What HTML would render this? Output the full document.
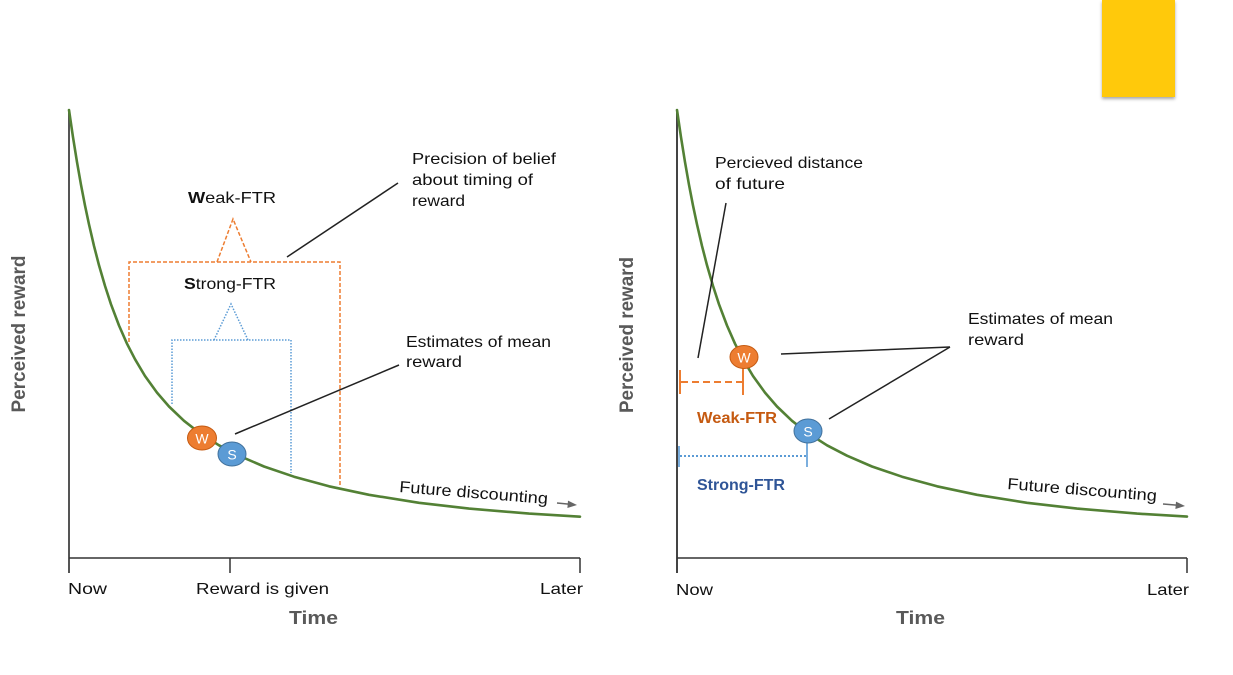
<!DOCTYPE html>
<html>
<head>
<meta charset="utf-8">
<style>
html,body{margin:0;padding:0;background:#fff;}
body{width:1233px;height:675px;overflow:hidden;position:relative;}
.yb{position:absolute;left:1102px;top:0;width:73px;height:97px;background:#FFC90B;box-shadow:0 2px 3px rgba(0,0,0,0.35);}
svg{position:absolute;left:0;top:0;}
text{font-family:"Liberation Sans",sans-serif;}
</style>
</head>
<body>
<div class="yb"></div>
<svg width="1233" height="675" viewBox="0 0 1233 675" xmlns="http://www.w3.org/2000/svg">
<!-- ============ LEFT CHART ============ -->
<!-- axes -->
<line x1="69" y1="109" x2="69" y2="573" stroke="#555" stroke-width="2"/>
<line x1="69" y1="558" x2="580" y2="558" stroke="#333" stroke-width="1.5"/>
<line x1="230" y1="558" x2="230" y2="573" stroke="#333" stroke-width="1.5"/>
<line x1="580" y1="558" x2="580" y2="573" stroke="#333" stroke-width="1.5"/>

<!-- orange dashed bracket -->
<g fill="none" stroke="#ED7D31" stroke-width="1.5" stroke-dasharray="4 2">
<polyline points="129,342 129,262 340,262 340,485"/>
<polyline points="217,262 233,219 251,262"/>
</g>
<!-- blue dotted bracket -->
<g fill="none" stroke="#5B9BD5" stroke-width="1.5" stroke-dasharray="1.5 1.5">
<polyline points="172,404 172,340 291,340 291,473"/>
<polyline points="214,340 231,304 248,340"/>
</g>

<!-- curve -->
<polyline fill="none" stroke="#538135" stroke-width="2.6" stroke-linejoin="round" stroke-linecap="round"
points="69,110 73,137.2 77,162.1 81,184.8 85,205.5 89,224.4 94,245.9 99,265.3 105,285.9 111,304.3 119,325.5 127,343.7 135,359.2 145,376 157,392.6 169,406.5 184,420.8 199,432.5 219,445.3 239,455.7 264,466.5 294,476.7 329,486.3 369,494.8 419,502.8 469,508.6 529,513.6 580,516.7"/>

<!-- callout lines -->
<line x1="287" y1="257" x2="398" y2="183" stroke="#222" stroke-width="1.5"/>
<line x1="235" y1="434" x2="399" y2="365" stroke="#222" stroke-width="1.5"/>

<!-- W / S markers -->
<ellipse cx="202" cy="438" rx="14.5" ry="12" fill="#ED7D31" stroke="#C55A11" stroke-width="1"/>
<text x="202" y="443.5" font-size="14" fill="#fff" text-anchor="middle">W</text>
<ellipse cx="232" cy="454" rx="14" ry="12" fill="#5B9BD5" stroke="#41719C" stroke-width="1"/>
<text x="232" y="459.5" font-size="14" fill="#fff" text-anchor="middle">S</text>

<!-- labels -->
<text x="188" y="203" font-size="16" fill="#111" textLength="88" lengthAdjust="spacingAndGlyphs"><tspan font-weight="bold">W</tspan>eak-FTR</text>
<text x="184" y="289" font-size="16" fill="#111" textLength="92" lengthAdjust="spacingAndGlyphs"><tspan font-weight="bold">S</tspan>trong-FTR</text>

<text x="412" y="164" font-size="16" fill="#111" textLength="144" lengthAdjust="spacingAndGlyphs">Precision of belief</text>
<text x="412" y="185" font-size="16" fill="#111" textLength="121" lengthAdjust="spacingAndGlyphs">about timing of</text>
<text x="412" y="206" font-size="16" fill="#111" textLength="53" lengthAdjust="spacingAndGlyphs">reward</text>

<text x="406" y="347" font-size="16" fill="#111" textLength="145" lengthAdjust="spacingAndGlyphs">Estimates of mean</text>
<text x="406" y="367" font-size="16" fill="#111" textLength="56" lengthAdjust="spacingAndGlyphs">reward</text>

<text transform="translate(399,492) rotate(4.6)" font-size="16" fill="#111" textLength="149" lengthAdjust="spacingAndGlyphs">Future discounting</text>
<line x1="557" y1="503" x2="570" y2="504.2" stroke="#666" stroke-width="1.5"/>
<polygon points="577,505 568,500.6 567.4,508" fill="#666"/>

<text x="68" y="594" font-size="16" fill="#111" textLength="39" lengthAdjust="spacingAndGlyphs">Now</text>
<text x="196" y="594" font-size="16" fill="#111" textLength="133" lengthAdjust="spacingAndGlyphs">Reward is given</text>
<text x="540" y="594" font-size="16" fill="#111" textLength="43" lengthAdjust="spacingAndGlyphs">Later</text>
<text x="289" y="624" font-size="18.5" font-weight="bold" fill="#595959" textLength="49" lengthAdjust="spacingAndGlyphs">Time</text>
<text transform="translate(25,334) rotate(-90)" font-size="19" font-weight="bold" fill="#595959" text-anchor="middle" textLength="157" lengthAdjust="spacingAndGlyphs">Perceived reward</text>

<!-- ============ RIGHT CHART ============ -->
<line x1="677" y1="109" x2="677" y2="573" stroke="#444" stroke-width="2"/>
<line x1="677" y1="558" x2="1187" y2="558" stroke="#333" stroke-width="1.5"/>
<line x1="1187" y1="558" x2="1187" y2="573" stroke="#333" stroke-width="1.5"/>

<!-- curve -->
<polyline fill="none" stroke="#538135" stroke-width="2.6" stroke-linejoin="round" stroke-linecap="round"
points="677,110 681,137.2 685,162.1 689,184.8 693,205.5 697,224.4 702,245.9 707,265.3 713,285.9 719,304.3 727,325.5 735,343.7 743,359.2 753,376 765,392.6 777,406.5 792,420.8 807,432.5 827,445.3 847,455.7 872,466.5 902,476.7 937,486.3 977,494.8 1027,502.8 1077,508.6 1137,513.6 1187,516.6"/>

<!-- callout lines -->
<line x1="726" y1="203" x2="698" y2="358" stroke="#222" stroke-width="1.5"/>
<line x1="781" y1="354" x2="950" y2="347" stroke="#222" stroke-width="1.5"/>
<line x1="829" y1="419" x2="950" y2="347" stroke="#222" stroke-width="1.5"/>

<!-- orange bracket -->
<line x1="680" y1="370" x2="680" y2="394" stroke="#ED7D31" stroke-width="2"/>
<line x1="743" y1="368" x2="743" y2="395" stroke="#ED7D31" stroke-width="2"/>
<line x1="681" y1="382" x2="742" y2="382" stroke="#ED7D31" stroke-width="2" stroke-dasharray="7 4"/>
<!-- blue bracket -->
<line x1="679" y1="446" x2="679" y2="467" stroke="#5B9BD5" stroke-width="1.6"/>
<line x1="807" y1="442" x2="807" y2="467" stroke="#5B9BD5" stroke-width="1.6"/>
<line x1="680" y1="456" x2="806" y2="456" stroke="#5B9BD5" stroke-width="2" stroke-dasharray="2 2"/>

<!-- markers -->
<ellipse cx="744" cy="357" rx="14" ry="11.5" fill="#ED7D31" stroke="#C55A11" stroke-width="1"/>
<text x="744" y="362.5" font-size="14" fill="#fff" text-anchor="middle">W</text>
<ellipse cx="808" cy="431" rx="14" ry="12" fill="#5B9BD5" stroke="#41719C" stroke-width="1"/>
<text x="808" y="436.5" font-size="14" fill="#fff" text-anchor="middle">S</text>

<!-- labels -->
<text x="715" y="168" font-size="16" fill="#111" textLength="148" lengthAdjust="spacingAndGlyphs">Percieved distance</text>
<text x="715" y="189" font-size="16" fill="#111" textLength="70" lengthAdjust="spacingAndGlyphs">of future</text>

<text x="968" y="324" font-size="16" fill="#111" textLength="145" lengthAdjust="spacingAndGlyphs">Estimates of mean</text>
<text x="968" y="345" font-size="16" fill="#111" textLength="56" lengthAdjust="spacingAndGlyphs">reward</text>

<text x="697" y="423" font-size="16" font-weight="bold" fill="#C55A11" textLength="80" lengthAdjust="spacingAndGlyphs">Weak-FTR</text>
<text x="697" y="490" font-size="16" font-weight="bold" fill="#2F5597" textLength="88" lengthAdjust="spacingAndGlyphs">Strong-FTR</text>

<text transform="translate(1007,489) rotate(4.6)" font-size="16" fill="#111" textLength="150" lengthAdjust="spacingAndGlyphs">Future discounting</text>
<line x1="1163" y1="504" x2="1178" y2="505.2" stroke="#666" stroke-width="1.5"/>
<polygon points="1185,506 1176,501.6 1175.4,509" fill="#666"/>

<text x="676" y="595" font-size="16" fill="#111" textLength="37" lengthAdjust="spacingAndGlyphs">Now</text>
<text x="1147" y="595" font-size="16" fill="#111" textLength="42" lengthAdjust="spacingAndGlyphs">Later</text>
<text x="896" y="624" font-size="18.5" font-weight="bold" fill="#595959" textLength="49" lengthAdjust="spacingAndGlyphs">Time</text>
<text transform="translate(633,335) rotate(-90)" font-size="19" font-weight="bold" fill="#595959" text-anchor="middle" textLength="156" lengthAdjust="spacingAndGlyphs">Perceived reward</text>
</svg>
</body>
</html>
